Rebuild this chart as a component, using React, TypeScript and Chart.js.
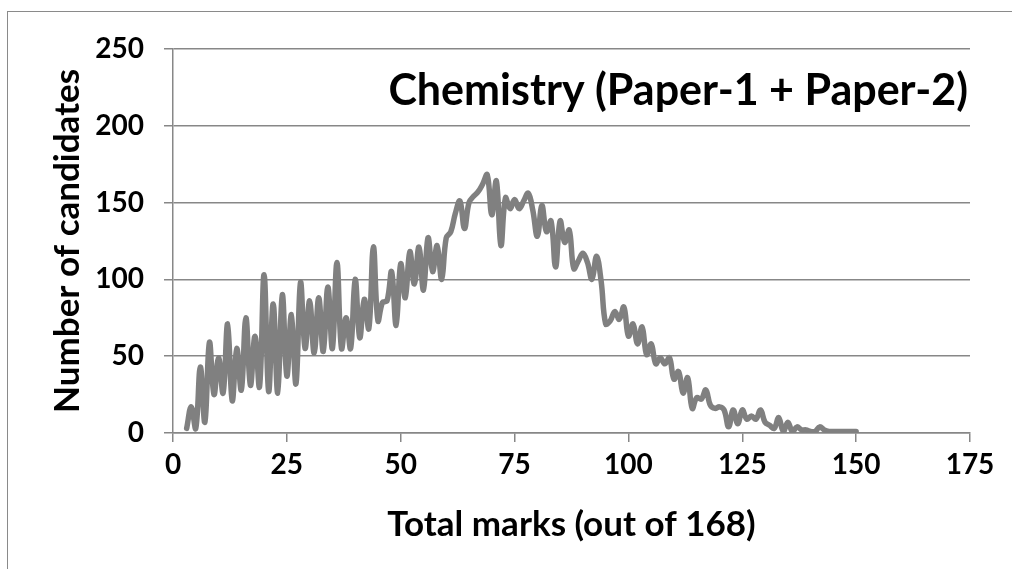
import React, { useEffect, useRef } from "react";
import { Chart, registerables } from "chart.js";

Chart.register(...registerables);

// Candidates per total mark, starting at FIRST_MARK (consecutive marks)
const FIRST_MARK = 3;
const COUNTS = [
  3, 17, 3, 43, 7, 59, 25, 49, 26, 71,
  21, 55, 28, 75, 31, 63, 30, 103, 27, 84,
  26, 90, 37, 77, 32, 98, 55, 86, 52, 88,
  53, 95, 55, 111, 55, 75, 55, 100, 62, 87,
  68, 121, 73, 85, 86, 105, 70, 110, 88, 118,
  97, 121, 93, 127, 105, 122, 100, 127, 131, 143,
  151, 133, 150, 154, 157, 162, 168, 142, 164, 122,
  153, 146, 152, 146, 151, 156, 145, 128, 148, 131,
  138, 108, 138, 124, 132, 107, 112, 117, 111, 100,
  115, 99, 71, 73, 79, 74, 82, 63, 71, 58,
  69, 51, 58, 45, 49, 45, 49, 35, 40, 26,
  36, 16, 23, 22, 28, 18, 16, 17, 15, 4,
  15, 6, 15, 9, 11, 9, 15, 7, 5, 3,
  10, 1, 7, 1, 4, 2, 2, 1, 1, 4,
  2, 1, 1, 1, 1, 1, 1, 1,
];
const MARKS = COUNTS.map((_, i) => FIRST_MARK + i);

const X_TICKS = [0, 25, 50, 75, 100, 125, 150, 175];
const Y_TICKS = [0, 50, 100, 150, 200, 250];

const TITLE = "Chemistry (Paper-1 + Paper-2)";
const X_TITLE = "Total marks (out of 168)";
const Y_TITLE = "Number of candidates";

const FONT = "Lato";
const GRID = "#878787";
const LINE = "#808080";

const innerTitle = {
  id: "innerTitle",
  afterDraw(chart: any) {
    const { ctx, chartArea } = chart;
    ctx.save();
    ctx.font = `bold 43px ${FONT}`;
    ctx.fillStyle = "#000";
    ctx.textAlign = "right";
    ctx.textBaseline = "middle";
    ctx.fillText(TITLE, chartArea.right - 2, chartArea.top + 42);
    ctx.restore();
  },
};

export default function App() {
  const ref = useRef<HTMLCanvasElement | null>(null);

  useEffect(() => {
    if (!ref.current) return;
    const tickFont = { family: FONT, size: 28, weight: "bold" as const };
    const titleFont = { family: FONT, size: 35, weight: "bold" as const };
    const chart = new Chart(ref.current, {
      type: "line",
      data: {
        datasets: [
          {
            data: MARKS.map((m, i) => ({ x: m, y: COUNTS[i] })),
            borderColor: LINE,
            borderWidth: 5.5,
            tension: 0.4,
            pointRadius: 0,
            borderCapStyle: "round",
            borderJoinStyle: "round",
            fill: false,
          },
        ],
      },
      options: {
        animation: false,
        responsive: false,
        layout: { padding: { top: 33, right: 42, left: 0, bottom: 0 } },
        plugins: { legend: { display: false }, tooltip: { enabled: false } },
        scales: {
          x: {
            type: "linear",
            min: 0,
            max: 175,
            afterBuildTicks: (s: any) => {
              s.ticks = X_TICKS.map((v) => ({ value: v }));
            },
            afterFit: (s: any) => {
              s.height = 136;
            },
            grid: {
              drawOnChartArea: false,
              drawTicks: true,
              tickLength: 9,
              color: GRID,
              lineWidth: 1.5,
            },
            border: { display: true, color: GRID, width: 1.5 },
            ticks: {
              color: "#000",
              font: tickFont,
              padding: 6,
              maxRotation: 0,
              autoSkip: false,
            },
            title: {
              display: true,
              text: X_TITLE,
              color: "#000",
              font: titleFont,
              padding: { top: 0, bottom: 23 },
            },
          },
          y: {
            type: "linear",
            min: 0,
            max: 250,
            afterBuildTicks: (s: any) => {
              s.ticks = Y_TICKS.map((v) => ({ value: v }));
            },
            afterFit: (s: any) => {
              s.width = 165;
            },
            grid: {
              drawOnChartArea: true,
              drawTicks: true,
              tickLength: 9,
              color: GRID,
              lineWidth: 1.5,
            },
            border: { display: true, color: GRID, width: 1.5 },
            ticks: { color: "#000", font: tickFont, padding: 20 },
            title: {
              display: true,
              text: Y_TITLE,
              color: "#000",
              font: titleFont,
              padding: { top: 39, bottom: 0 },
            },
          },
        },
      },
      plugins: [innerTitle],
    });
    return () => chart.destroy();
  }, []);

  return (
    <div
      style={{
        position: "fixed",
        left: 7,
        top: 11,
        width: 1005,
        height: 558,
        borderTop: "1px solid #8a8a8a",
        borderLeft: "1px solid #8a8a8a",
        boxSizing: "border-box",
        background: "#fff",
      }}
    >
      <canvas ref={ref} width={1004} height={557} style={{ display: "block" }} />
    </div>
  );
}
